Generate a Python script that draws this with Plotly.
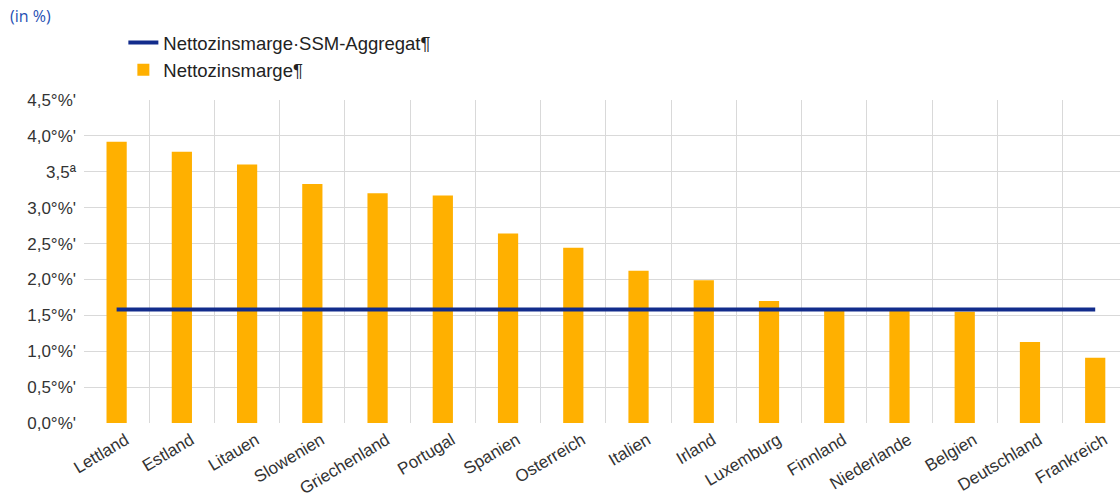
import plotly.graph_objects as go

categories = ["Lettland", "Estland", "Litauen", "Slowenien", "Griechenland", "Portugal",
              "Spanien", "Osterreich", "Italien", "Irland", "Luxemburg", "Finnland",
              "Niederlande", "Belgien", "Deutschland", "Frankreich"]
nim_values = [3.92, 3.78, 3.60, 3.33, 3.20, 3.17, 2.64, 2.44, 2.12, 1.99, 1.70, 1.56,
              1.57, 1.55, 1.13, 0.91]
ssm_x = ["Lettland", "Frankreich"]
ssm_values = [1.58, 1.58]

y_tickvals = [0, 0.5, 1.0, 1.5, 2.0, 2.5, 3.0, 3.5, 4.0, 4.5]
y_ticktext = ["0,0°%'", "0,5°%'", "1,0°%'", "1,5°%'", "2,0°%'", "2,5°%'",
              "3,0°%'", "3,5ª", "4,0°%'", "4,5°%'"]

font_main = "Liberation Sans, Arial, sans-serif"

fig = go.Figure()
fig.add_trace(go.Scatter(
    x=ssm_x, y=ssm_values, mode="lines",
    name="Nettozinsmarge·SSM-Aggregat¶",
    line=dict(color="#122c8c", width=4),
))
fig.add_trace(go.Bar(
    x=categories, y=nim_values,
    name="Nettozinsmarge¶",
    marker=dict(color="#FFB000", line=dict(width=0)),
))

fig.update_layout(
    width=1120, height=500,
    margin=dict(l=84, r=0, t=100, b=77, autoexpand=False),
    paper_bgcolor="white", plot_bgcolor="white",
    bargap=0.69,
    font=dict(family=font_main, color="#333333", size=16),
    showlegend=True,
    legend=dict(
        x=0.038, y=1.235, xanchor="left", yanchor="top",
        orientation="v", itemwidth=30,
        font=dict(family=font_main, size=18.5, color="#222222"),
        bgcolor="rgba(0,0,0,0)", tracegroupgap=0,
    ),
    annotations=[dict(
        text="(in %)", xref="paper", yref="paper", x=-0.0734, y=1.26,
        xanchor="left", yanchor="middle", showarrow=False,
        font=dict(family="Open Sans, sans-serif", size=16, color="#1f4fb4"),
    )],
)
fig.update_xaxes(
    type="category", categoryorder="array", categoryarray=categories,
    range=[-0.5, 15.38], tickson="boundaries", ticks="",
    showgrid=True, gridcolor="#d9d9d9", gridwidth=1,
    tickangle=-31, tickfont=dict(size=17, color="#333333"),
    ticklabelstandoff=3, ticklabelshift=9,
    showline=False, zeroline=False,
)
fig.update_yaxes(
    range=[0, 4.5], tickvals=y_tickvals, ticktext=y_ticktext,
    showgrid=True, gridcolor="#d9d9d9", gridwidth=1,
    tickfont=dict(size=17, color="#333333"), ticks="",
    ticklabelstandoff=7,
    zeroline=False, showline=False,
)

fig.write_html("out.html")
